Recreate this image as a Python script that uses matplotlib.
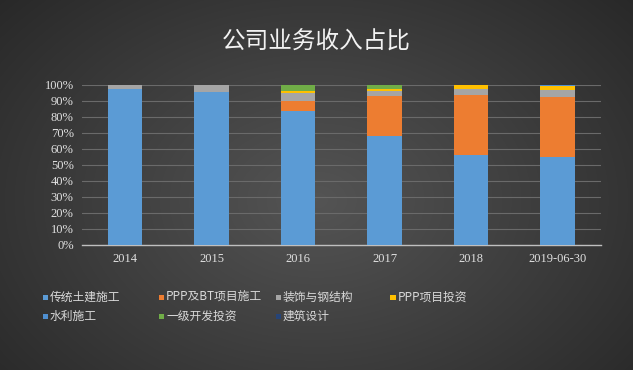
import numpy as np
import matplotlib
matplotlib.use("Agg")
import matplotlib.pyplot as plt
from matplotlib.ticker import PercentFormatter
from matplotlib.patches import Rectangle

plt.rcParams['font.family'] = ['Noto Sans CJK SC', 'DejaVu Sans']

years = ["2014", "2015", "2016", "2017", "2018", "2019-06-30"]
series = ["传统土建施工", "PPP及BT项目施工", "装饰与钢结构", "PPP项目投资",
          "水利施工", "一级开发投资", "建筑设计"]
# 各业务占比 (%)
trad = [97.0, 95.5, 83.3, 68.0, 56.3, 55.0]
ppp_bt = [0.0, 0.0, 6.4, 24.6, 37.2, 37.0]
deco = [3.0, 4.5, 5.0, 3.5, 3.5, 4.5]
ppp_inv = [0.0, 0.0, 1.0, 1.4, 2.5, 2.8]
water = [0.0, 0.0, 0.0, 0.0, 0.3, 0.4]
land = [0.0, 0.0, 4.3, 2.5, 0.0, 0.0]
design = [0.0, 0.0, 0.0, 0.0, 0.2, 0.3]
colors = ["#5B9BD5", "#ED7D31", "#A5A5A5", "#FFC000", "#4F8FD0", "#70AD47", "#264478"]

data = [trad, ppp_bt, deco, ppp_inv, water, land, design]

fig = plt.figure(figsize=(6.33, 3.70), dpi=100)

# 背景渐变
bg = fig.add_axes([0, 0, 1, 1], zorder=-10)
yy, xx = np.mgrid[0:370, 0:633]
r = np.sqrt(((xx - 316) / 420.0) ** 2 + ((yy - 200) / 300.0) ** 2)
shade = np.clip(0.33 - 0.17 * r, 0.15, 0.35)
bg.imshow(np.dstack([shade] * 3), aspect="auto", extent=[0, 1, 0, 1])
bg.axis("off")

ax = fig.add_axes([0.1295, 0.338, 0.8195, 0.4336])
ax.set_facecolor("none")
x = np.arange(len(years))
bottom = np.zeros(len(years))
for vals, c in zip(data, colors):
    ax.bar(x, vals, bottom=bottom, width=0.4, color=c, zorder=3)
    bottom += np.array(vals)

ax.set_xlim(-0.5, len(years) - 0.5)
ax.set_ylim(0, 100)
ax.set_yticks(np.arange(0, 101, 10))
ax.yaxis.set_major_formatter(PercentFormatter(decimals=0))
ax.set_xticks(x)
ax.set_xticklabels(years)
for lab in ax.get_xticklabels() + ax.get_yticklabels():
    lab.set_family(["Liberation Serif", "DejaVu Serif"])
    lab.set_fontsize(9)
    lab.set_color("#e0e0e0")
ax.tick_params(length=0, pad=6)
ax.grid(axis="y", color="#6a6a6a", linewidth=0.8, zorder=0)
for s in ["top", "right", "left"]:
    ax.spines[s].set_visible(False)
ax.spines["bottom"].set_color("#bfbfbf")
ax.spines["bottom"].set_linewidth(1.0)

fig.text(0.5, 0.885, "公司业务收入占比", ha="center", va="center",
         fontsize=17, color="#f2f2f2")

# 图例 (按行排列)
col_x = [45, 161, 278, 393]
row_y = [297, 316]
for i, (name, c) in enumerate(zip(series, colors)):
    px = col_x[i % 4]
    py = row_y[i // 4]
    fig.patches.append(Rectangle(((px - 2.5) / 633, 1 - (py + 2.5) / 370), 5 / 633, 5 / 370,
                                 transform=fig.transFigure, facecolor=c, edgecolor="none"))
    fig.text((px + 5) / 633, 1 - py / 370, name, ha="left", va="center",
             fontsize=8.5, color="#d9d9d9")

fig.savefig("out.png", dpi=100)
